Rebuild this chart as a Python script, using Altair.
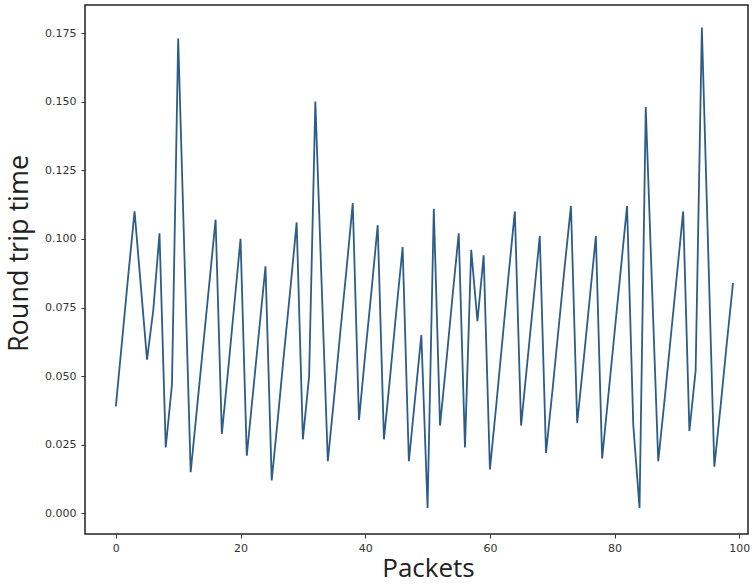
import altair as alt
import pandas as pd

packets = list(range(100))
rtt = [
    0.039, 0.063, 0.087, 0.110, 0.083, 0.056, 0.074, 0.102, 0.024, 0.047,
    0.173, 0.094, 0.015, 0.038, 0.061, 0.084, 0.107, 0.029, 0.052, 0.076,
    0.100, 0.021, 0.044, 0.067, 0.090, 0.012, 0.035, 0.059, 0.082, 0.106,
    0.027, 0.050, 0.150, 0.084, 0.019, 0.042, 0.066, 0.089, 0.113, 0.034,
    0.058, 0.081, 0.105, 0.027, 0.050, 0.074, 0.097, 0.019, 0.042, 0.065,
    0.002, 0.111, 0.032, 0.055, 0.079, 0.102, 0.024, 0.096, 0.070, 0.094,
    0.016, 0.039, 0.063, 0.087, 0.110, 0.032, 0.055, 0.078, 0.101, 0.022,
    0.044, 0.067, 0.090, 0.112, 0.033, 0.055, 0.078, 0.101, 0.020, 0.043,
    0.066, 0.089, 0.112, 0.032, 0.002, 0.148, 0.083, 0.019, 0.041, 0.064,
    0.087, 0.110, 0.030, 0.052, 0.177, 0.097, 0.017, 0.039, 0.062, 0.084,
]
x_ticks = [0, 20, 40, 60, 80, 100]
y_ticks = [0.0, 0.025, 0.05, 0.075, 0.1, 0.125, 0.15, 0.175]

df = pd.DataFrame({"Packets": packets, "RTT": rtt})

chart = (
    alt.Chart(df)
    .mark_line(color="#2b5d88", strokeWidth=1.8, clip=True)
    .encode(
        x=alt.X(
            "Packets:Q",
            scale=alt.Scale(domain=[-4.95, 101.4], nice=False, zero=False),
            axis=alt.Axis(
                values=x_ticks, title="Packets", grid=False, format="d",
                titleFontSize=26, titleFont="Open Sans", titleFontWeight="normal",
                titleColor="#222222", titlePadding=2, titleX=343,
                labelFont="DejaVu Sans", labelFontSize=11, labelColor="#333333",
                tickColor="#333333", tickSize=4, labelPadding=4, domain=False,
            ),
        ),
        y=alt.Y(
            "RTT:Q",
            scale=alt.Scale(domain=[-0.0075, 0.1852], nice=False, zero=False),
            axis=alt.Axis(
                values=y_ticks, title="Round trip time", grid=False, format=".3f",
                titleFontSize=27, titleFont="Open Sans", titleFontWeight="normal",
                titleColor="#222222", titleX=-52, titleY=248, titleAngle=270,
                titleAlign="center", titleBaseline="bottom",
                labelFont="DejaVu Sans", labelFontSize=11, labelColor="#333333",
                tickColor="#333333", tickSize=4, labelPadding=5, domain=False,
            ),
        ),
    )
    .properties(
        width=663,
        height=529,
        autosize=alt.AutoSizeParams(type="none"),
        padding={"left": 85, "top": 5, "right": 7, "bottom": 53},
        background="white",
    )
    .configure_view(stroke="#222222", strokeWidth=1.5)
)

chart.save("out.html", embed_options={"renderer": "svg", "actions": False})
